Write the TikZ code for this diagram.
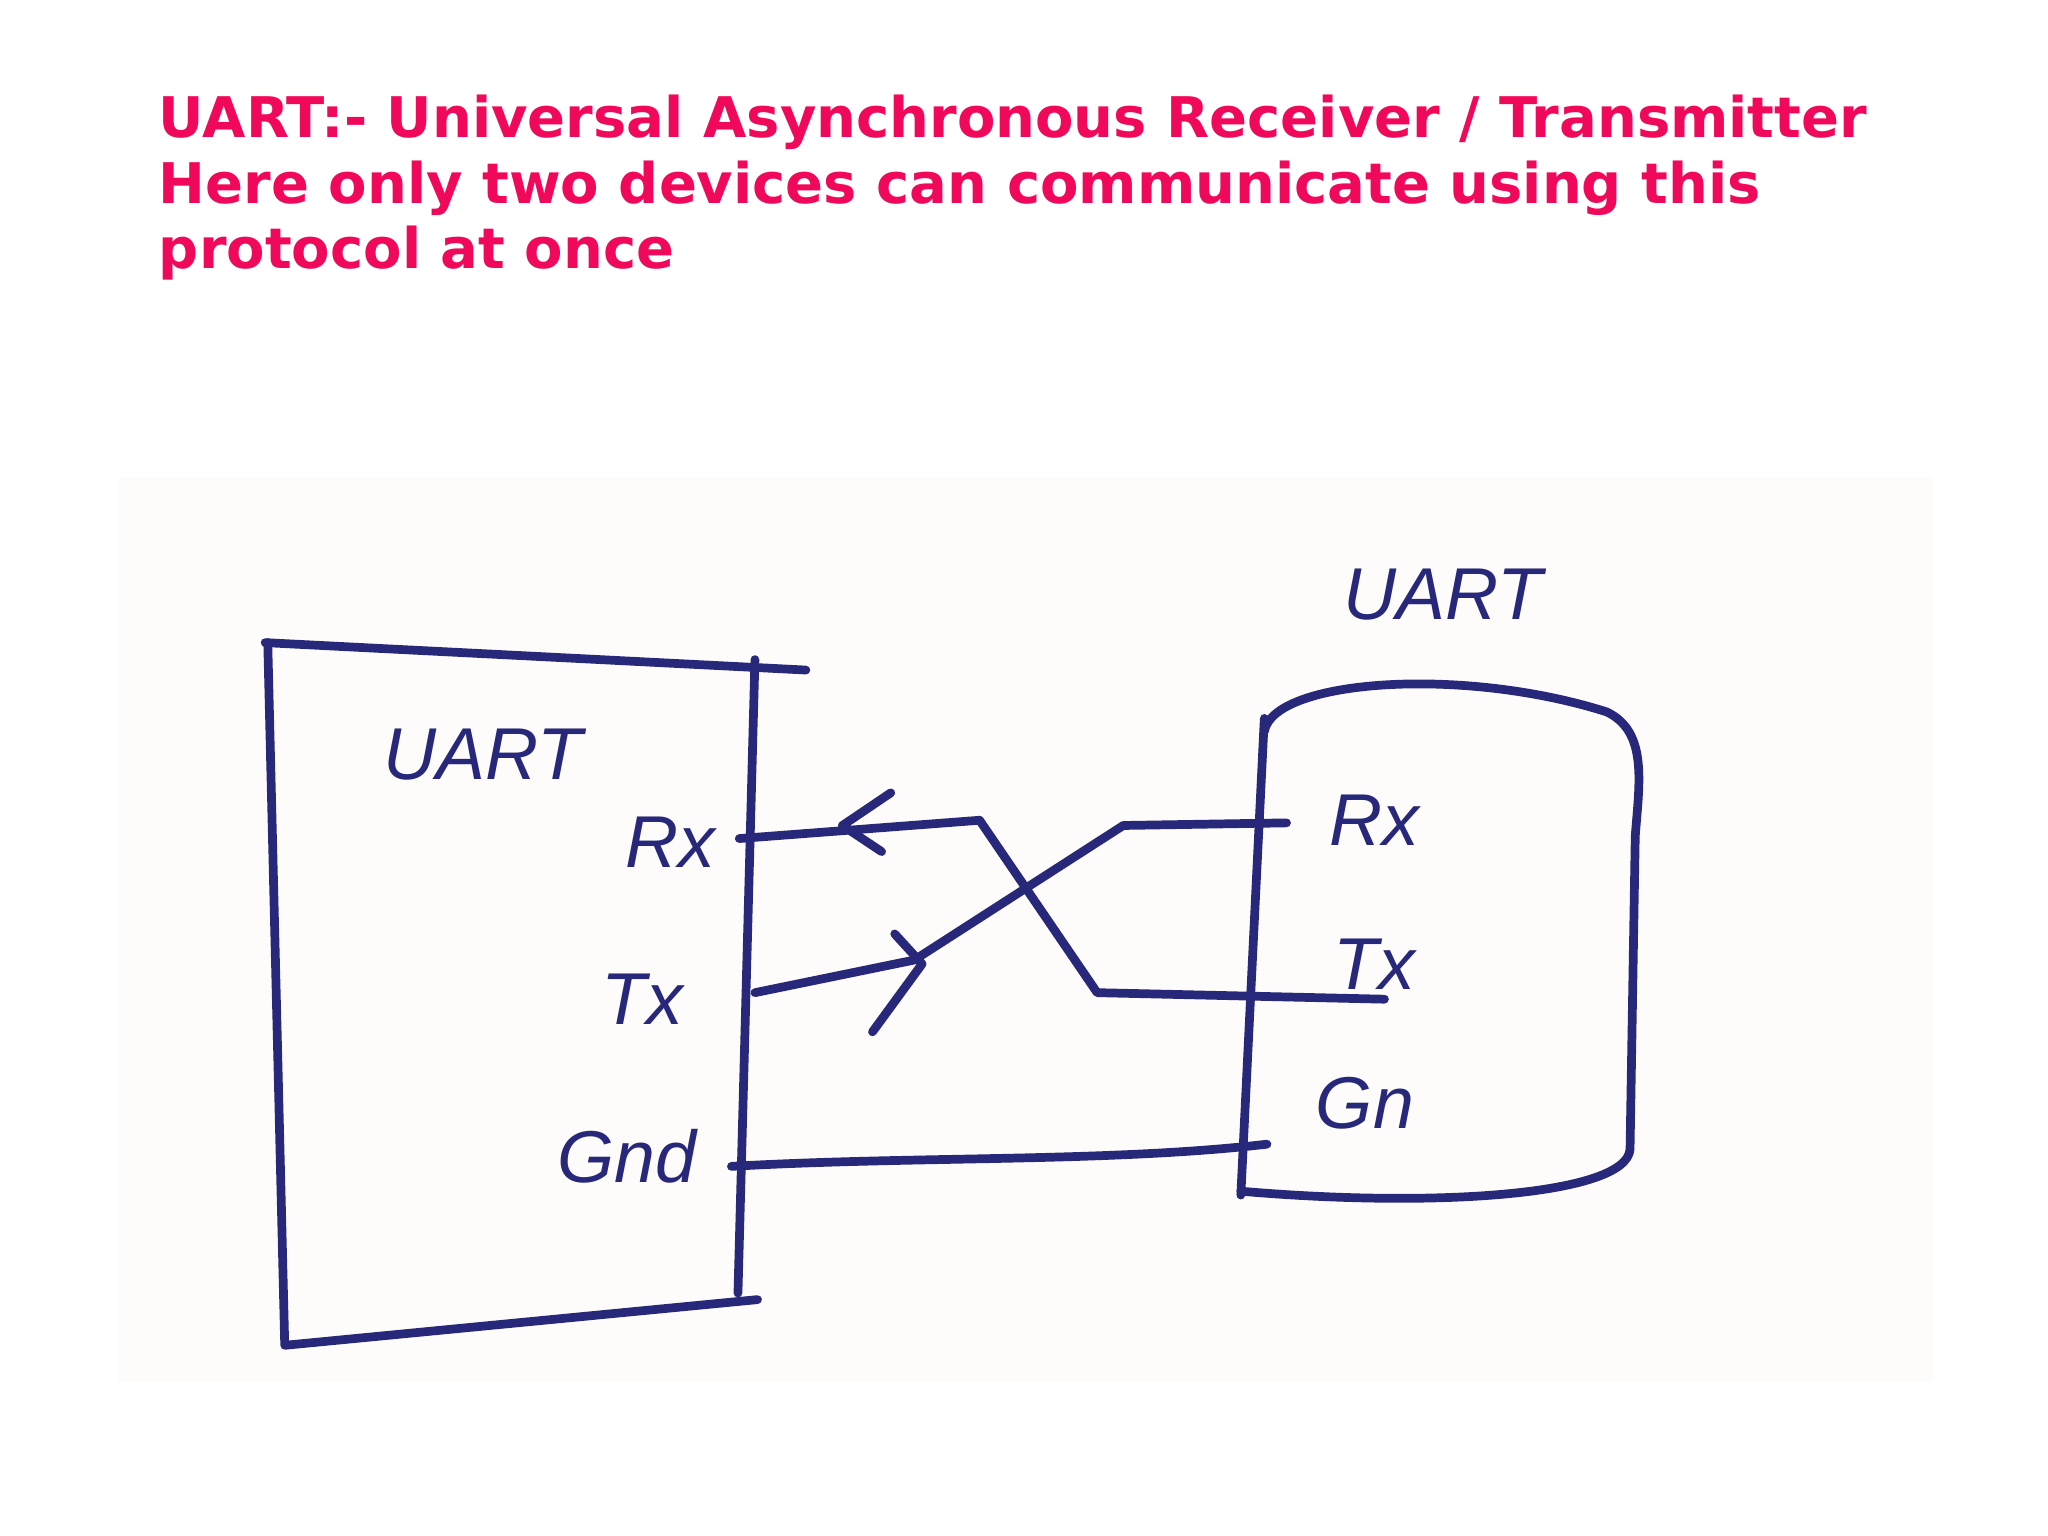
\documentclass[tikz,border=0pt]{standalone}
\usepackage{fontspec}
\setmainfont{DejaVu Sans}
\newfontfamily\handfont{Liberation Sans}
\definecolor{pinkt}{HTML}{F0085A}
\definecolor{ink}{HTML}{28287A}
\definecolor{paper}{HTML}{FDFCFA}
\begin{document}
\begin{tikzpicture}[x=0.1mm,y=-0.1mm,
  wire/.style={ink,line width=1.9pt,line cap=round,line join=round},
  hand/.style={ink,font=\handfont\fontsize{16}{18}\selectfont\itshape},
  ttl/.style={pinkt,font=\bfseries\fontsize{12.2}{14.3}\selectfont,anchor=north west,align=left,inner sep=0}]
\useasboundingbox (0,0) rectangle (1568,1176);
\fill[paper] (90,365) rectangle (1480,1058);
\node[ttl] (title) at (121,72) {UART:- Universal Asynchronous Receiver / Transmitter\\Here only two devices can communicate using this\\protocol at once};
% left box
\draw[wire] (203,492) -- (617,513);
\draw[wire] (205,492) -- (218,1030) -- (580,995);
\draw[wire] (578,505) -- (565,990);
\node[hand] (luart) at (370,578) {UART};
\node[hand] (lrx) at (513,645) {Rx};
\node[hand] (ltx) at (492,765) {Tx};
\node[hand] (lgnd) at (480,885) {Gnd};
% right box
\draw[wire] (968,560) .. controls (975,520) and (1120,510) .. (1230,545) .. controls (1262,560) and (1255,600) .. (1252,640) -- (1248,880) .. controls (1245,915) and (1100,925) .. (950,912);
\draw[wire] (968,550) -- (950,915);
\node[hand] (ruart) at (1105,455) {UART};
\node[hand] (rrx) at (1052,628) {Rx};
\node[hand] (rtx) at (1052,738) {Tx};
\node[hand] (rgn) at (1045,845) {Gn};
% wire endpoints
\coordinate (a1) at (566,642); \coordinate (a2) at (1060,765);
\coordinate (b1) at (578,760); \coordinate (b2) at (985,630);
\coordinate (c1) at (560,893); \coordinate (c2) at (970,876);
\draw[wire] (a1) -- (750,628) -- (840,760) -- (a2);
\draw[wire] (b1) -- (700,735) -- (860,632) -- (b2);
\draw[wire] (c1) .. controls (700,885) and (850,890) .. (c2);
% arrows
\draw[wire] (682,607) -- (645,632) -- (675,652);
\draw[wire] (685,715) -- (706,738) -- (668,790);
\end{tikzpicture}
\end{document}
